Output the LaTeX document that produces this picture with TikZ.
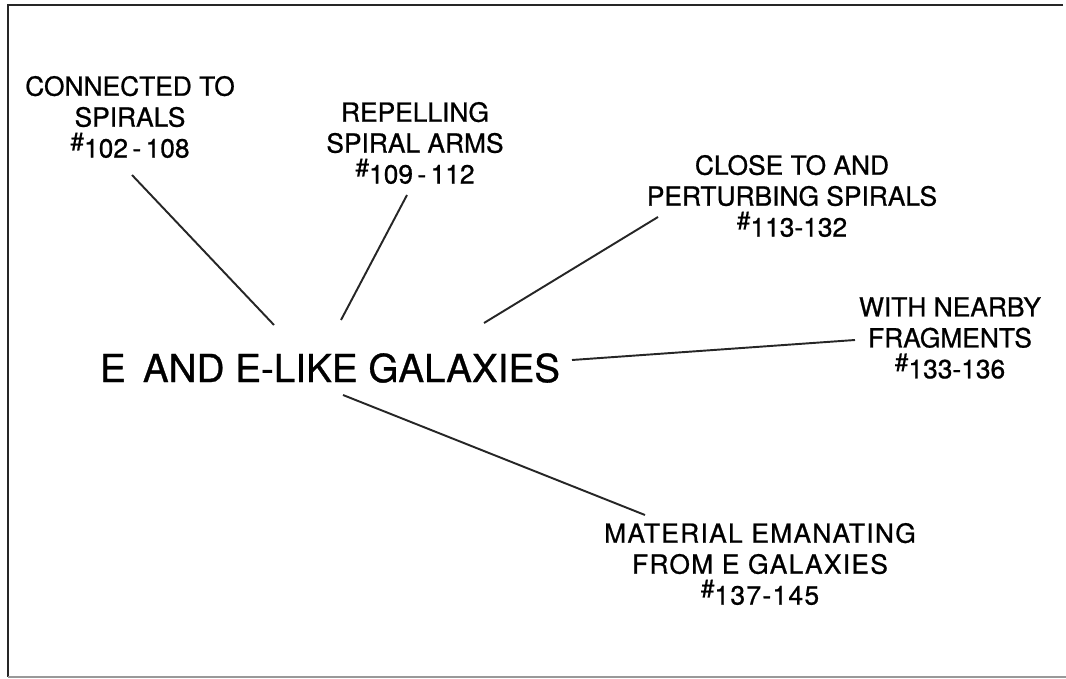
\documentclass[tikz,border=0pt]{standalone}
\usepackage{fontspec}
\setmainfont{TeX Gyre Heros}[FakeBold=0.8]
\newcommand{\catno}[1]{\raisebox{0.55ex}{\fontsize{14}{14}\selectfont\#}#1}

\begin{document}
\begin{tikzpicture}[
    x=0.02cm, y=-0.02cm,
    frame/.style   = {line width=1.4pt, draw=black!85},
    lbl/.style     = {align=center, inner sep=0pt,
                      font=\fontsize{15}{17.6}\selectfont},
    mainlbl/.style = {inner sep=0pt, font=\fontsize{22}{26}\selectfont},
    conn/.style    = {line width=1.1pt, draw=black!85},
  ]

  \useasboundingbox (0,0) rectangle (1066,679);

  \draw[frame] (1063,5) -- (8,5) -- (8,677);
  \draw[line width=0.8pt, draw=black!40] (8,677) -- (1066,677);

  \node[mainlbl] (gal) at (330,368) {E\, AND E-LIKE GALAXIES};

  \node[lbl] (spirals) at (130,117) {CONNECTED TO\\SPIRALS\\\catno{102\,-\,108}};
  \node[lbl] (arms) at (415,143) {REPELLING\\SPIRAL ARMS\\\catno{109\,-\,112}};
  \node[lbl] (perturb) at (792,196) {CLOSE TO AND\\PERTURBING SPIRALS\\\catno{113-132}};
  \node[lbl] (frag) at (950,338) {WITH NEARBY\\FRAGMENTS\\\catno{133-136}};
  \node[lbl, font=\fontsize{15}{17.6}\selectfont\addfontfeature{LetterSpace=5}]
    (emanate) at (760,564) {MATERIAL EMANATING\\FROM E GALAXIES\\\catno{137-145}};

  \coordinate (g1) at (274,325);
  \coordinate (g2) at (341,320);
  \coordinate (g3) at (484,323);
  \coordinate (g4) at (572,360);
  \coordinate (g5) at (343,395);
  \coordinate (s1) at (132,175);
  \coordinate (s2) at (407,195);
  \coordinate (s3) at (658,217);
  \coordinate (s4) at (855,340);
  \coordinate (s5) at (645,515);

  \draw[conn] (s1) -- (g1);
  \draw[conn] (s2) -- (g2);
  \draw[conn] (s3) -- (g3);
  \draw[conn] (g4) -- (s4);
  \draw[conn] (g5) -- (s5);

\end{tikzpicture}
\end{document}
